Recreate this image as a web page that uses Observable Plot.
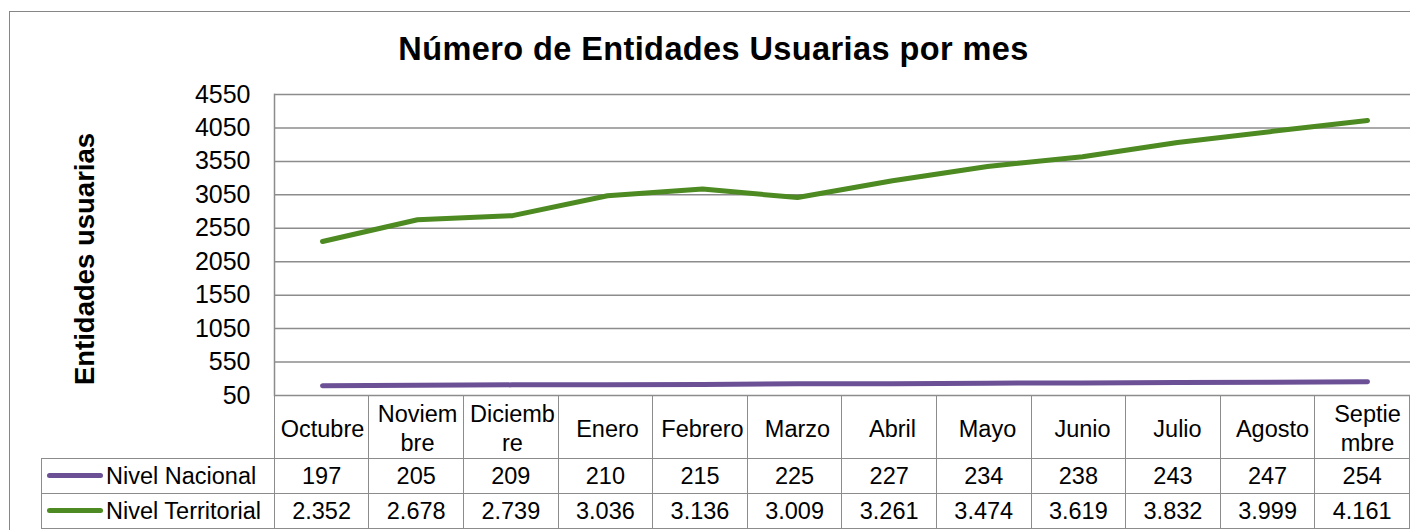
<!DOCTYPE html>
<html>
<head>
<meta charset="utf-8">
<script src="https://cdn.jsdelivr.net/npm/d3@7"></script>
<script src="https://cdn.jsdelivr.net/npm/@observablehq/plot@0.6"></script>
<style>
  body { margin: 0; background: #fff; font-family: "Liberation Sans", Arial, sans-serif; }
  #wrap { position: relative; width: 1410px; height: 530px; overflow: hidden; background: #fff; }
  #frame { position: absolute; left: 9px; top: 11px; width: 1440px; height: 560px; border: 1.5px solid #868686; }
  #title { position: absolute; left: 0; width: 1427px; top: 32.5px; line-height: 32.5px; text-align: center;
           font-weight: bold; font-size: 32.5px; letter-spacing: 0.4px; color: #000; }
  #chart { position: absolute; left: 0; top: 0; }
  #tbl { position: absolute; left: 41px; top: 395px; border-collapse: collapse; table-layout: fixed;
         font-size: 23.5px; color: #000; }
  #tbl td { border: 1.5px solid #8c8c8c; text-align: center; padding: 0; white-space: nowrap; }
  #tbl td.legend { text-align: left; padding-left: 5px; }
  .sw { display: inline-block; width: 56px; height: 5px; border-radius: 3px; vertical-align: middle; margin-right: 3px; position: relative; top: -2px; }
</style>
</head>
<body>
<div id="wrap">
  <div id="frame"></div>
  <div id="title">Número de Entidades Usuarias por mes</div>
  <div id="chart"></div>
  <table id="tbl"></table>
</div>
<script>
const months = ["Octubre","Noviembre","Diciembre","Enero","Febrero","Marzo","Abril","Mayo","Junio","Julio","Agosto","Septiembre"];
const monthLabels = ["Octubre","Noviem\nbre","Diciemb\nre","Enero","Febrero","Marzo","Abril","Mayo","Junio","Julio","Agosto","Septie\nmbre"];
const nacional = [197,205,209,210,215,225,227,234,238,243,247,254];
const territorial = [2352,2678,2739,3036,3136,3009,3261,3474,3619,3832,3999,4161];
const seriesNames = ["Nivel Nacional","Nivel Territorial"];
const seriesColors = ["#6B5095","#4D8A21"];
const yTicks = [50,550,1050,1550,2050,2550,3050,3550,4050,4550];
const yTitle = "Entidades usuarias";

const seriesValues = [nacional, territorial];
const data = months.flatMap((m, i) => seriesNames.map((s, k) => ({month: m, series: s, value: seriesValues[k][i]})));
const labelOf = new Map(months.map((m, i) => [m, monthLabels[i]]));
const FONT = "'Liberation Sans', Arial, sans-serif";

const chart = Plot.plot({
  width: 1410, height: 459,
  marginTop: 94, marginBottom: 64, marginLeft: 274, marginRight: -5,
  style: {fontFamily: FONT, fontSize: "23.5px", color: "#000", background: "transparent", overflow: "visible"},
  x: {type: "point", domain: months, padding: 0.5},
  y: {domain: [50, 4550]},
  color: {domain: seriesNames, range: seriesColors},
  marks: [
    Plot.gridY(yTicks, {stroke: "#8c8c8c", strokeOpacity: 1, strokeWidth: 1.5}),
    Plot.frame({anchor: "left", stroke: "#8c8c8c", strokeWidth: 1.5}),
    Plot.axisY(yTicks, {tickSize: 0, tickPadding: 24, fontSize: 25, label: null, tickFormat: d => `${d}`}),
    Plot.axisX({tickSize: 0, tickPadding: 32, lineAnchor: "middle", lineHeight: 1.2, fontSize: 23.5,
                tickFormat: d => labelOf.get(d), label: null}),
    Plot.line(data, {x: "month", y: "value", stroke: "series", z: "series", strokeWidth: 5,
                     strokeLinecap: "round", strokeLinejoin: "round"}),
    Plot.text([yTitle], {text: d => d, frameAnchor: "left", textAnchor: "middle", lineAnchor: "middle",
                         rotate: -90, dx: -189, dy: 14, fontWeight: "bold", fontSize: 27.5})
  ]
});
document.getElementById("chart").appendChild(chart);

// data table below the chart
const fmt = d3.formatLocale({decimal: ",", thousands: ".", grouping: [3], currency: ["", ""]}).format(",");
const tbl = document.getElementById("tbl");
const cg = document.createElement("colgroup");
[233, ...months.map(() => 95.08)].forEach(w => { const c = document.createElement("col"); c.style.width = w + "px"; cg.appendChild(c); });
tbl.appendChild(cg);
const head = document.createElement("tr");
const h0 = document.createElement("td"); h0.style.borderTop = "none"; h0.style.borderLeft = "none"; head.appendChild(h0);
months.forEach(() => { const td = document.createElement("td"); td.style.height = "62px"; head.appendChild(td); });
tbl.appendChild(head);
seriesNames.forEach((s, k) => {
  const tr = document.createElement("tr");
  const lc = document.createElement("td"); lc.className = "legend";
  lc.innerHTML = `<span class="sw" style="background:${seriesColors[k]}"></span>${s}`;
  lc.style.height = "34px";
  tr.appendChild(lc);
  seriesValues[k].forEach(v => { const td = document.createElement("td"); td.textContent = fmt(v); tr.appendChild(td); });
  tbl.appendChild(tr);
});
</script>
</body>
</html>
